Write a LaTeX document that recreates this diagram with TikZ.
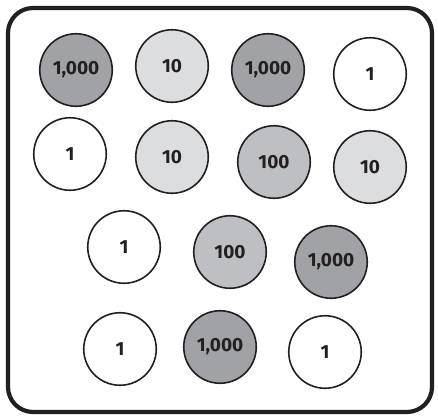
\documentclass[tikz,border=0pt]{standalone}
\usepackage{fontspec}
\setmainfont{Fira Sans}
\usepackage{xcolor}
\definecolor{inkBlack}{HTML}{231F20}
\definecolor{thousandGray}{HTML}{A1A2A5}
\definecolor{hundredGray}{HTML}{BEBFC2}
\definecolor{tenGray}{HTML}{DCDDDF}
\usetikzlibrary{positioning}

\begin{document}
\begin{tikzpicture}[
        x=1pt, y=-1pt,
        coinNode/.style={
            circle,
            draw=inkBlack,
            line width=1.6pt,
            minimum size=72.5pt,
            inner sep=0pt,
            font=\bfseries\fontsize{19}{19}\selectfont,
            text=inkBlack
        },
        oneCoin/.style={coinNode, fill=white},
        tenCoin/.style={coinNode, fill=tenGray},
        hundredCoin/.style={coinNode, fill=hundredGray},
        thousandCoin/.style={coinNode, fill=thousandGray},
        frameLine/.style={
            draw=inkBlack,
            line width=4.2pt,
            rounded corners=25pt
        }
    ]

    % Canvas and outer frame
    \useasboundingbox (0,0) rectangle (438,416);
    \fill[white] (0,0) rectangle (438,416);
    \draw[frameLine] (8,8) rectangle (432,412);

    % Row 1
    \node[thousandCoin] (thouA) at (76, 70) {1,000};
    \node[tenCoin] (tenA) at (172, 66) {10};
    \node[thousandCoin] (thouB) at (268, 70) {1,000};
    \node[oneCoin] (oneA) at (370, 74) {1};

    % Row 2
    \node[oneCoin] (oneB) at (70, 154) {1};
    \node[tenCoin] (tenB) at (172, 157) {10};
    \node[hundredCoin] (hundA) at (274, 162) {100};
    \node[tenCoin] (tenC) at (370, 167) {10};

    % Row 3
    \node[oneCoin] (oneC) at (124, 247) {1};
    \node[hundredCoin] (hundB) at (230, 252) {100};
    \node[thousandCoin] (thouC) at (331, 262) {1,000};

    % Row 4
    \node[oneCoin] (oneD) at (120, 349) {1};
    \node[thousandCoin] (thouD) at (220, 347) {1,000};
    \node[oneCoin] (oneE) at (325, 352) {1};

\end{tikzpicture}
\end{document}
